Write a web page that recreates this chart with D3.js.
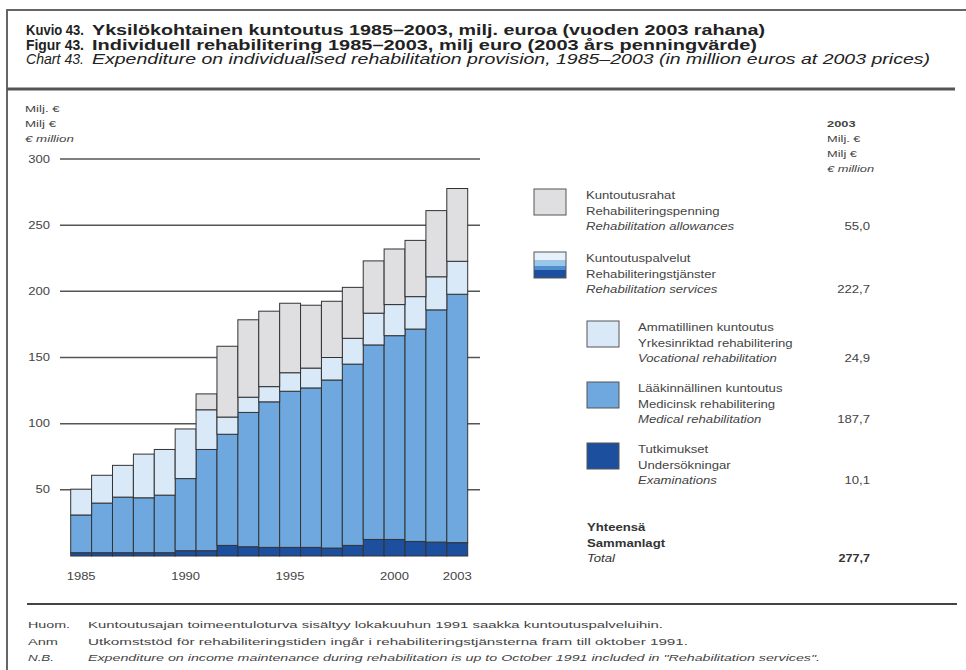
<!DOCTYPE html>
<html>
<head>
<meta charset="utf-8">
<script src="https://cdn.jsdelivr.net/npm/d3@7"></script>
<style>
  body { margin: 0; background: #fff; }
  svg { display: block; font-family: "Liberation Sans", Arial, sans-serif; }
</style>
</head>
<body>
<div id="chart"></div>
<script>
// years and series (million euros, 2003 prices)
const years = ["1985","1986","1987","1988","1989","1990","1991","1992","1993","1994",
               "1995","1996","1997","1998","1999","2000","2001","2002","2003"];
const examinations = [2.5, 2.5, 2.5, 2.5, 2.5, 4, 4, 8, 7, 6.5, 6.5, 6.5, 6, 8, 12.5, 12.5, 11, 10.5, 10.1];
const medical      = [28.5, 37.5, 42, 41.5, 43.5, 54.5, 76.5, 84, 101.5, 110, 118, 120.5, 127, 137, 147, 154, 160.5, 175.5, 187.7];
const vocational   = [19.5, 21, 24, 33, 34.5, 37.5, 30, 13, 11.5, 11.5, 14, 15, 17, 19.5, 24, 23.5, 24.5, 25, 24.9];
const allowances   = [0, 0, 0, 0, 0, 0, 12, 53.5, 58.5, 57, 52.5, 47.5, 42.5, 38.5, 39.5, 42, 42.5, 50, 55.0];
const yTicks = [50, 100, 150, 200, 250, 300];
const xLabels = ["1985", "1990", "1995", "2000", "2003"];
const seriesKeys = ["exam", "medical", "vocational", "allowance"];

const titleLines = [
  ["Kuvio 43.", "Yksilökohtainen kuntoutus 1985–2003, milj. euroa (vuoden 2003 rahana)"],
  ["Figur 43.", "Individuell rehabilitering 1985–2003, milj euro (2003 års penningvärde)"],
  ["Chart 43.", "Expenditure on individualised rehabilitation provision, 1985–2003 (in million euros at 2003 prices)"]
];
const notes = [
  ["Huom.", "Kuntoutusajan toimeentuloturva sisältyy lokakuuhun 1991 saakka kuntoutuspalveluihin."],
  ["Anm", "Utkomststöd för rehabiliteringstiden ingår i rehabiliteringstjänsterna fram till oktober 1991."],
  ["N.B.", "Expenditure on income maintenance during rehabilitation is up to October 1991 included in \"Rehabilitation services\"."]
];
const legendItems = [
  {key: "allowance", lines: ["Kuntoutusrahat", "Rehabiliteringspenning", "Rehabilitation allowances"], value: "55,0"},
  {key: "services", lines: ["Kuntoutuspalvelut", "Rehabiliteringstjänster", "Rehabilitation services"], value: "222,7"},
  {key: "vocational", lines: ["Ammatillinen kuntoutus", "Yrkesinriktad rehabilitering", "Vocational rehabilitation"], value: "24,9"},
  {key: "medical", lines: ["Lääkinnällinen kuntoutus", "Medicinsk rehabilitering", "Medical rehabilitation"], value: "187,7"},
  {key: "exam", lines: ["Tutkimukset", "Undersökningar", "Examinations"], value: "10,1"}
];

const colors = {
  allowance: "#dfdfe2",
  vocational: "#d9e9f8",
  medical: "#6ea8de",
  exam: "#1d4f9f"
};

let w = 966, h = 670;

let svg = d3.select("#chart").append("svg")
            .attr("width", w)
            .attr("height", h);

// the scanned original has wide lettering, so widen text by a factor
function stretch(sel, f) {
    sel.each(function() {
        let len = this.getComputedTextLength();
        d3.select(this)
            .attr("textLength", len * f)
            .attr("lengthAdjust", "spacingAndGlyphs");
    });
    return sel;
}

function addText(x, y, t, size, opts = {}) {
    let el = svg.append("text")
        .attr("x", x).attr("y", y)
        .attr("font-size", size)
        .attr("font-weight", opts.bold ? "bold" : "normal")
        .attr("font-style", opts.italic ? "italic" : "normal")
        .attr("text-anchor", opts.anchor || "start")
        .attr("fill", opts.fill || "#444")
        .text(t);
    if (opts.width) el.attr("textLength", opts.width).attr("lengthAdjust", "spacingAndGlyphs");
    else if (opts.f) stretch(el, opts.f);
    return el;
}

// outer frame
svg.append("path")
    .attr("d", `M7,${h} L7,10 L${w},10`)
    .attr("fill", "none")
    .attr("stroke", "#666")
    .attr("stroke-width", 2);

// titles
let titleWidths = [673, 665, 838];
titleLines.forEach((l, i) => {
    let y = 35 + i * 14.5;
    let o = {bold: i < 2, italic: i === 2, fill: "#222"};
    addText(26, y, l[0], 14, Object.assign({width: 58}, o));
    addText(92, y, l[1], 14, Object.assign({width: titleWidths[i]}, o));
});

// rule under title
svg.append("line")
    .attr("x1", 7).attr("x2", 955)
    .attr("y1", 89).attr("y2", 89)
    .attr("stroke", "#555")
    .attr("stroke-width", 3);

// scales
let xScale = d3.scaleBand()
                .domain(years)
                .range([70.7, 467.7])
                .padding(0);

let yScale = d3.scaleLinear()
                .domain([0, 300])
                .range([556, 159]);

// unit labels
["Milj. €", "Milj €", "€ million"].forEach((t, i) => {
    addText(25, 112 + i * 15, t, 9.5, {italic: i === 2, f: 1.4});
});

// gridlines
svg.append("g")
    .selectAll("line")
    .data(yTicks)
    .enter()
    .append("line")
    .attr("x1", 60).attr("x2", 480)
    .attr("y1", d => yScale(d)).attr("y2", d => yScale(d))
    .attr("stroke", "#555")
    .attr("stroke-width", 1.5);

// y labels
let yLab = svg.append("g")
    .selectAll("text")
    .data(yTicks)
    .enter()
    .append("text")
    .attr("x", 50)
    .attr("y", d => yScale(d))
    .attr("dy", "0.35em")
    .attr("text-anchor", "end")
    .attr("font-size", 10)
    .attr("fill", "#444")
    .text(d => d);
stretch(yLab, 1.3);

// stacked bars
let table = years.map((y, i) => ({
    year: y,
    exam: examinations[i],
    medical: medical[i],
    vocational: vocational[i],
    allowance: allowances[i]
}));

let stacked = d3.stack().keys(seriesKeys)(table);

svg.append("g")
    .selectAll("g")
    .data(stacked)
    .enter()
    .append("g")
    .attr("fill", d => colors[d.key])
    .selectAll("rect")
    .data(d => d.filter(p => p[1] - p[0] > 0))
    .enter()
    .append("rect")
    .attr("x", d => xScale(d.data.year))
    .attr("y", d => yScale(d[1]))
    .attr("width", xScale.bandwidth())
    .attr("height", d => yScale(d[0]) - yScale(d[1]))
    .attr("stroke", "#333")
    .attr("stroke-width", 1);

// x labels
let xLab = svg.append("g")
    .selectAll("text")
    .data(xLabels)
    .enter()
    .append("text")
    .attr("x", d => xScale(d) + xScale.bandwidth() / 2)
    .attr("y", 580)
    .attr("text-anchor", "middle")
    .attr("font-size", 10)
    .attr("fill", "#444")
    .text(d => d);
stretch(xLab, 1.3);

// legend header
["2003", "Milj. €", "Milj €", "€ million"].forEach((t, i) => {
    addText(827, 127 + i * 15, t, 9.5, {bold: i === 0, italic: i === 3, f: 1.35});
});

// legend entries
let legendPos = [
    {sx: 534, tx: 586, y: 189},
    {sx: 534, tx: 586, y: 252},
    {sx: 587, tx: 638, y: 321},
    {sx: 587, tx: 638, y: 382},
    {sx: 587, tx: 638, y: 443}
];

legendItems.forEach((d, i) => {
    let p = legendPos[i];
    let g = svg.append("g").attr("transform", `translate(0, ${p.y})`);
    if (d.key === "services") {
        let bands = [["#e6f1fb", 0, 8], ["#9cc5ea", 8, 6], ["#4f8fcf", 14, 4], ["#1d4f9f", 18, 8]];
        bands.forEach(b => {
            g.append("rect")
                .attr("x", p.sx).attr("y", b[1])
                .attr("width", 32).attr("height", b[2])
                .attr("fill", b[0]);
        });
        g.append("rect")
            .attr("x", p.sx).attr("y", 0)
            .attr("width", 32).attr("height", 26)
            .attr("fill", "none")
            .attr("stroke", "#555");
    } else {
        g.append("rect")
            .attr("x", p.sx).attr("y", 0)
            .attr("width", 32).attr("height", 26)
            .attr("fill", colors[d.key])
            .attr("stroke", "#555");
    }
    d.lines.forEach((t, j) => {
        addText(p.tx, p.y + 10 + j * 15.5, t, 10.5, {italic: j === 2, f: 1.25});
    });
    addText(870, p.y + 10 + 2 * 15.5, d.value, 10.5, {anchor: "end", f: 1.25});
});

// total
["Yhteensä", "Sammanlagt", "Total"].forEach((t, i) => {
    addText(587, 531 + i * 15.5, t, 10.5, {bold: i < 2, italic: i === 2, fill: "#333", f: 1.25});
});
addText(870, 562, "277,7", 10.5, {bold: true, anchor: "end", fill: "#333", f: 1.2});

// bottom rule and notes
svg.append("line")
    .attr("x1", 27).attr("x2", 957)
    .attr("y1", 604).attr("y2", 604)
    .attr("stroke", "#444")
    .attr("stroke-width", 2);

let noteWidths = [575, 600, 732];
let noteLabelWidths = [42, 30, 26];
notes.forEach((n, i) => {
    let y = 628 + i * 16.5;
    addText(28, y, n[0], 9, {italic: i === 2, width: noteLabelWidths[i]});
    addText(88, y, n[1], 9, {italic: i === 2, width: noteWidths[i]});
});
</script>
</body>
</html>
